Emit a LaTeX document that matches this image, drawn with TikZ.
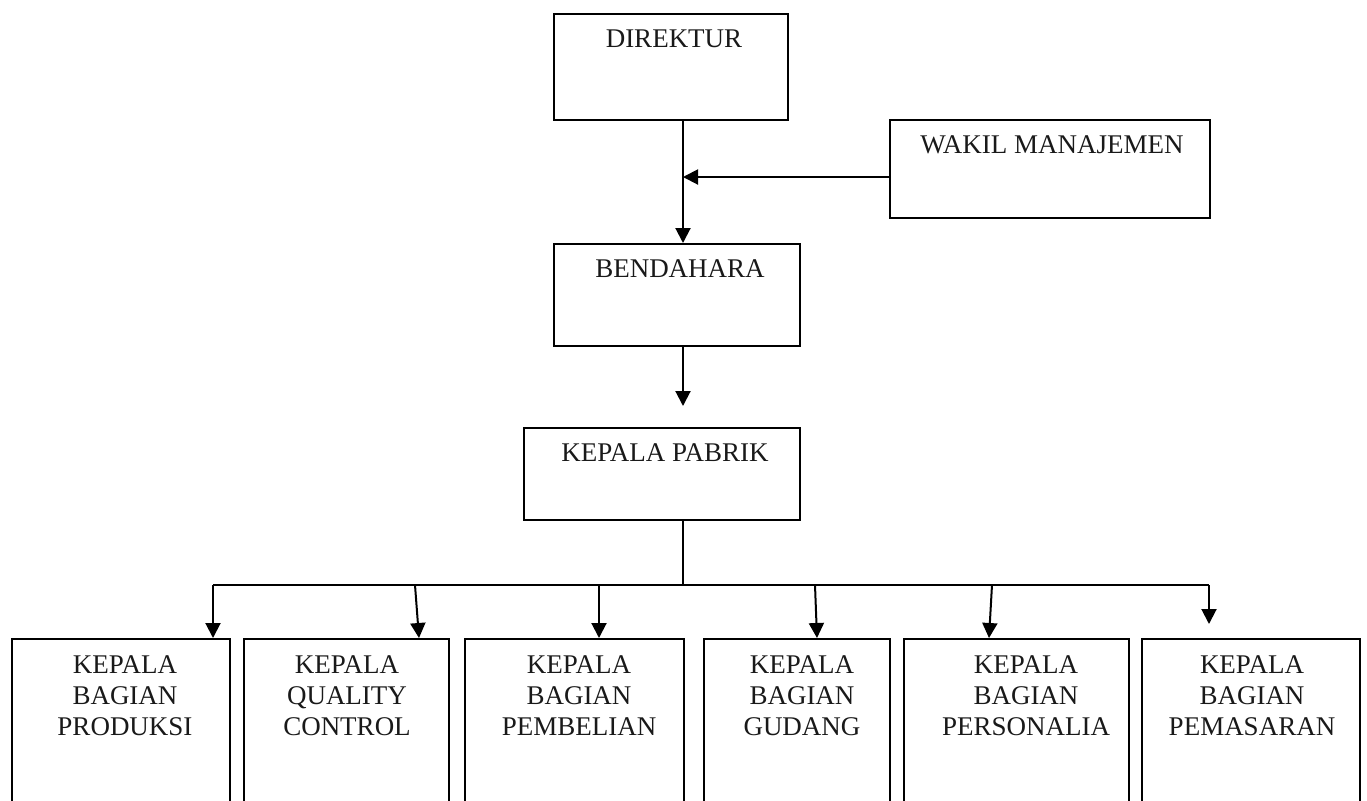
\documentclass[tikz,border=0pt]{standalone}
\usepackage{fontspec}
\setmainfont{Liberation Serif}
\usetikzlibrary{arrows.meta}
\begin{document}
\begin{tikzpicture}[x=0.5pt,y=-0.5pt,
  box/.style={draw=black, line width=1pt, rectangle, inner sep=0pt, anchor=north west},
  lbl/.style={font=\fontsize{13.5}{15.5}\selectfont, align=center, inner sep=0pt, text=black!90},
  arr/.style={line width=1pt, -{Triangle[length=7.5pt,width=7.5pt]}},
  ln/.style={line width=1pt}]
\useasboundingbox (0,0) rectangle (1367,800);
\clip (0,0) rectangle (1367,800);
% top boxes
\node[box, minimum width=117pt, minimum height=53pt] (dir) at (553,13) {};
\node[lbl] (tdir) at (674,39) {DIREKTUR};
\node[box, minimum width=160pt, minimum height=49pt] (wak) at (889,119) {};
\node[lbl] (twak) at (1052,145) {WAKIL MANAJEMEN};
\node[box, minimum width=123pt, minimum height=51pt] (ben) at (553,243) {};
\node[lbl] (tben) at (680,269) {BENDAHARA};
\node[box, minimum width=138pt, minimum height=46pt] (kp) at (523,427) {};
\node[lbl] (tkp) at (665,453) {KEPALA PABRIK};
% bottom boxes (open at the bottom edge of the picture)
\node[box, minimum width=109pt, minimum height=100pt] (b1) at (11,638) {};
\node[box, minimum width=102.5pt, minimum height=100pt] (b2) at (243,638) {};
\node[box, minimum width=109.5pt, minimum height=100pt] (b3) at (464,638) {};
\node[box, minimum width=93pt, minimum height=100pt] (b4) at (703,638) {};
\node[box, minimum width=112.5pt, minimum height=100pt] (b5) at (903,638) {};
\node[box, minimum width=109pt, minimum height=100pt] (b6) at (1141,638) {};
\node[lbl] (t1) at (125,696) {KEPALA\\BAGIAN\\PRODUKSI};
\node[lbl] (t2) at (347,696) {KEPALA\\QUALITY\\CONTROL};
\node[lbl] (t3) at (579,696) {KEPALA\\BAGIAN\\PEMBELIAN};
\node[lbl] (t4) at (802,696) {KEPALA\\BAGIAN\\GUDANG};
\node[lbl] (t5) at (1026,696) {KEPALA\\BAGIAN\\PERSONALIA};
\node[lbl] (t6) at (1252,696) {KEPALA\\BAGIAN\\PEMASARAN};
% helper coordinates
\coordinate (spine) at (683,0);
\coordinate (j1) at (683,177);
\coordinate (kparr) at (683,406);
\coordinate (bus) at (683,585);
\coordinate (busL) at (213,585);
\coordinate (busR) at (1209,585);
\coordinate (a2) at (415,585);
\coordinate (a3) at (599,585);
\coordinate (a4) at (815,585);
\coordinate (a5) at (992,585);
\coordinate (e6) at (1209,624);
% connectors
\draw[arr] (dir.south -| spine) -- (ben.north -| spine);
\draw[arr] (wak.west |- j1) -- (j1);
\draw[arr] (ben.south -| spine) -- (kparr);
\draw[ln] (kp.south -| spine) -- (bus);
\draw[ln, line join=miter] (busL) -- (busR);
\draw[arr] (busL) -- (b1.north -| busL);
\draw[arr] (a2) -- ([xshift=2pt]b2.north -| a2);
\draw[arr] (a3) -- (b3.north -| a3);
\draw[arr] (a4) -- ([xshift=1pt]b4.north -| a4);
\draw[arr] (a5) -- ([xshift=-1.5pt]b5.north -| a5);
\draw[arr] (busR) -- (e6);
\end{tikzpicture}
\end{document}
